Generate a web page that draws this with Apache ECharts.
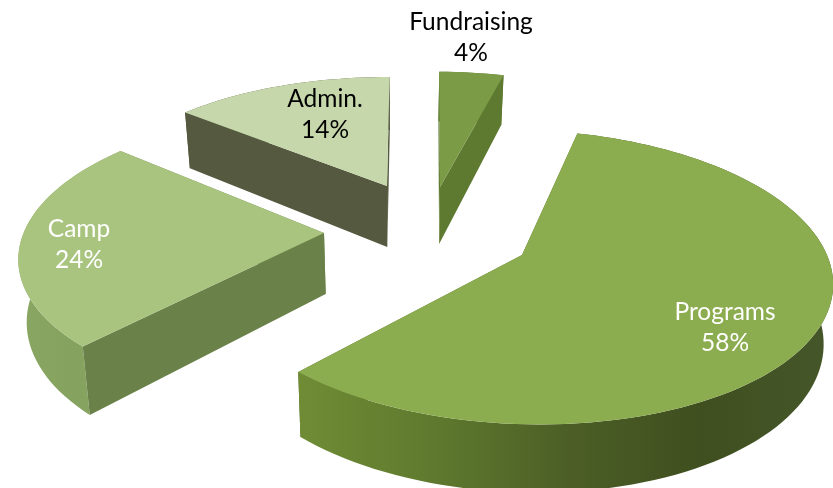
<!DOCTYPE html>
<html>
<head>
<meta charset="utf-8">
<style>html,body{margin:0;padding:0;background:#fff}#c{width:833px;height:488px}</style>
<script src="https://cdn.jsdelivr.net/npm/echarts@6/dist/echarts.min.js"></script>
</head>
<body>
<div id="c"></div>
<script>
const categories = ['Programs', 'Camp', 'Admin.', 'Fundraising'];
const percents = [58, 24, 14, 4];

// Projection of the tilted pie (layout only; angles come from the data)
const START = 14.8, A = 305, B = 144, P = 0.15, VPX = 400, SHRINK = 0.022;
const layout = [
  { ax: 522, ay: 255, sx: 1, sy: 1, shear: 15, depth: 58, lx: 725, ly: 328, lc: '#fff',
    top: '#8cad4f', near: '#66802f', far: '#55682a',
    arc: ['#6f8c35', '#5f7a2e', '#4c5f26', '#3f4f1f', '#45572a'] },
  { ax: 324, ay: 233, sx: 0.985, sy: 0.97, shear: -11, depth: 61, lx: 79, ly: 245, lc: '#fff',
    top: '#a9c47f', near: '#6a8249', far: '#6a8249',
    arc: ['#8aa663', '#86a25f', '#8aa663'] },
  { ax: 387, ay: 186, sx: 0.95, sy: 0.87, shear: -1, depth: 61, lx: 325, ly: 115, lc: '#000',
    top: '#c6d7ab', near: '#54593f', far: '#54593f', arc: ['#54593f', '#54593f'] },
  { ax: 440, ay: 187, sx: 0.97, sy: 0.92, shear: 3, depth: 57, lx: 471, ly: 38, lc: '#000',
    top: '#7b9b47', near: '#5e7a30', far: '#5e7a30', arc: ['#5e7a30', '#5e7a30'] }
];
const FONT = 'Lato, "Noto Sans", sans-serif';

const total = percents.reduce((s, v) => s + v, 0);

function project(l, deg) {
  const t = deg * Math.PI / 180, u = Math.sin(t), v = -Math.cos(t);
  const w = 1 - P * v;
  return [l.ax + l.sx * (A * u + l.shear * v) / w, l.ay + l.sy * B * v / w, w];
}
function lower(l, p, w) {
  return [p[0] + (VPX - p[0]) * SHRINK, p[1] + l.depth / w];
}
function arcPts(l, a, b) {
  const pts = [], n = Math.max(4, Math.ceil((b - a) / 2));
  for (let i = 0; i <= n; i++) pts.push(project(l, a + (b - a) * i / n));
  return pts;
}
function poly(points, fill) {
  return { type: 'polygon', shape: { points }, style: { fill, stroke: null }, silent: true };
}
function grad(colors) {
  return { type: 'linear', x: 0, y: 0, x2: 1, y2: 0,
    colorStops: colors.map((c, i) => ({ offset: i / (colors.length - 1), color: c })) };
}

function renderItem(params) {
  const i = params.dataIndex, l = layout[i];
  let a = START;
  for (let k = 0; k < i; k++) a += percents[k] / total * 360;
  const b = a + percents[i] / total * 360;
  const arc = arcPts(l, a, b);
  const apex = [l.ax, l.ay], apexLow = lower(l, apex, 1);
  const first = arc[0], last = arc[arc.length - 1];
  const startVisible = -Math.cos((a - 90) * Math.PI / 180) > 0;
  const endVisible = -Math.cos((b + 90) * Math.PI / 180) > 0;
  const wall = (p, vis) => poly([apex, [p[0], p[1]], lower(l, p, p[2]), apexLow], vis ? l.near : l.far);
  const sw = wall(first, startVisible);
  const ew = wall(last, endVisible);
  const frontPts = arc.map(p => [p[0], p[1]]).concat(arc.slice().reverse().map(p => lower(l, p, p[2])));
  const outer = poly(frontPts, grad(l.arc));
  const top = poly([apex].concat(arc.map(p => [p[0], p[1]])), l.top);
  const order = [];
  if (!startVisible) order.push(sw);
  if (!endVisible) order.push(ew);
  order.push(outer);
  if (startVisible) order.push(sw);
  if (endVisible) order.push(ew);
  order.push(top);
  order.push({
    type: 'text', silent: true, z2: 10,
    style: { x: l.lx, y: l.ly, text: categories[i] + '\n' + percents[i] + '%',
      fill: l.lc, font: '400 24.5px ' + FONT, lineHeight: 31, align: 'center', verticalAlign: 'middle' }
  });
  return { type: 'group', children: order };
}

const chart = echarts.init(document.getElementById('c'), null, { renderer: 'canvas' });
chart.setOption({
  animation: false,
  backgroundColor: '#fff',
  series: [{
    type: 'custom', coordinateSystem: 'none', renderItem,
    data: categories.map((name, i) => ({ name, value: percents[i] }))
  }]
});
</script>
</body>
</html>
